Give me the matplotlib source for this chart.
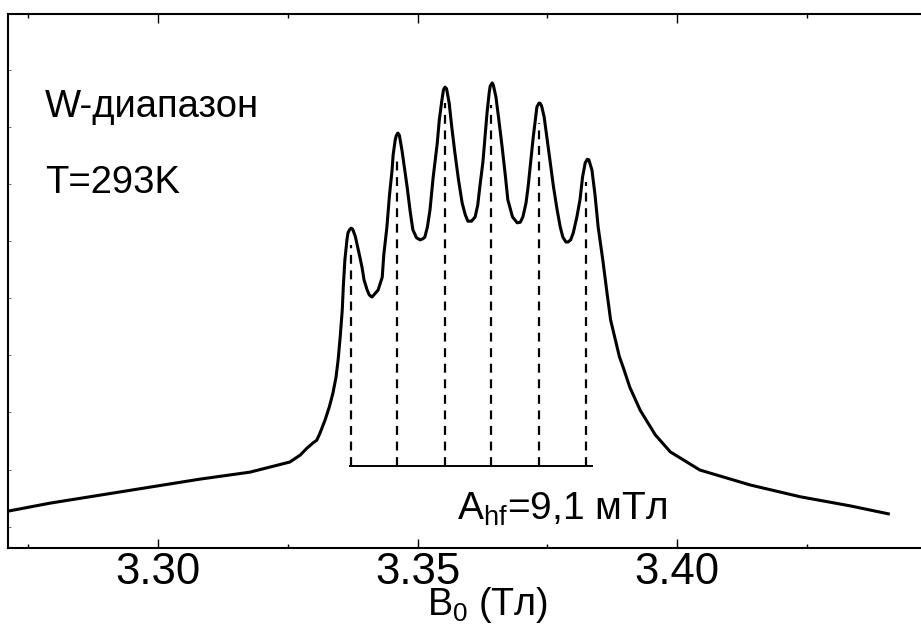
import numpy as np
import matplotlib
matplotlib.use('Agg')
import matplotlib.pyplot as plt
from matplotlib.ticker import MultipleLocator

plt.rcParams['font.family'] = ['Liberation Sans', 'DejaVu Sans']
plt.rcParams['mathtext.fontset'] = 'custom'
plt.rcParams['mathtext.rm'] = 'Liberation Sans'
plt.rcParams['mathtext.it'] = 'Liberation Sans:italic'

# EPR spectrum (W-band, 293 K): field in T, intensity in arb. units
field = [3.2711, 3.2792, 3.2888, 3.2985, 3.3081, 3.3177, 3.3254, 3.3274,
         3.3287, 3.3299, 3.3306, 3.3312, 3.3322, 3.3330, 3.3337, 3.3343,
         3.3347, 3.3351, 3.3355, 3.3357, 3.3360, 3.3364, 3.3366, 3.3369,
         3.3372, 3.3375, 3.3380, 3.3383, 3.3388, 3.3393, 3.3397, 3.3403,
         3.3407, 3.3412, 3.3416, 3.3424, 3.3432, 3.3435, 3.3441, 3.3446,
         3.3451, 3.3453, 3.3457, 3.3459, 3.3462, 3.3465, 3.3470, 3.3474,
         3.3480, 3.3486, 3.3491, 3.3498, 3.3505, 3.3510, 3.3514, 3.3519,
         3.3524, 3.3530, 3.3538, 3.3542, 3.3547, 3.3550, 3.3553, 3.3556,
         3.3561, 3.3566, 3.3572, 3.3579, 3.3586, 3.3592, 3.3597, 3.3604,
         3.3611, 3.3616, 3.3620, 3.3626, 3.3630, 3.3634, 3.3638, 3.3640,
         3.3644, 3.3646, 3.3651, 3.3656, 3.3663, 3.3669, 3.3674, 3.3683,
         3.3692, 3.3698, 3.3703, 3.3709, 3.3713, 3.3718, 3.3723, 3.3727,
         3.3730, 3.3734, 3.3736, 3.3739, 3.3744, 3.3749, 3.3755, 3.3762,
         3.3769, 3.3775, 3.3780, 3.3786, 3.3790, 3.3795, 3.3800, 3.3807,
         3.3813, 3.3818, 3.3823, 3.3827, 3.3830, 3.3836, 3.3842, 3.3848,
         3.3857, 3.3865, 3.3872, 3.3881, 3.3889, 3.3896, 3.3909, 3.3929,
         3.3958, 3.3987, 3.4044, 3.4141, 3.4237, 3.4333, 3.4407]
signal = [6.9, 8.4, 9.9, 11.4, 12.9, 14.2, 16.1, 17.4,
          18.7, 19.7, 20.2, 21.5, 24.0, 26.4, 29.0, 32.0,
          35.2, 39.5, 44.6, 48.9, 53.9, 57.7, 59.0, 59.6,
          59.9, 59.7, 58.4, 57.1, 54.9, 52.6, 50.2, 48.3,
          47.4, 47.0, 47.4, 48.3, 50.7, 54.9, 60.1, 66.1,
          70.8, 73.6, 76.4, 77.2, 77.7, 77.3, 74.5, 71.7,
          67.6, 62.9, 59.6, 58.1, 57.7, 57.9, 58.2, 60.1,
          63.3, 69.3, 75.8, 80.2, 83.9, 85.8, 86.3, 86.0,
          83.3, 78.8, 74.0, 68.9, 64.6, 62.4, 61.2, 61.2,
          62.0, 64.2, 67.6, 72.3, 77.0, 81.6, 85.2, 86.5,
          87.1, 86.7, 84.5, 80.7, 75.1, 69.9, 65.2, 62.0,
          60.9, 61.0, 62.0, 64.6, 67.6, 72.3, 77.0, 80.2,
          82.6, 83.3, 83.3, 82.8, 80.7, 77.0, 72.7, 67.6,
          63.3, 60.1, 58.2, 57.3, 57.3, 57.7, 59.0, 62.0,
          65.2, 69.5, 72.1, 72.8, 72.7, 70.8, 66.1, 60.1,
          53.9, 47.8, 42.7, 39.0, 35.8, 33.9, 30.1, 25.8,
          21.2, 18.0, 14.6, 11.8, 9.6, 7.9, 6.4]

# hyperfine line positions and heights of the marker lines
hf_lines = [3.3372, 3.3461, 3.3553, 3.3642, 3.3734, 3.3825]
hf_tops = [56.7, 73.6, 83.3, 83.0, 79.6, 68.5]
hf_base = 15.4
hf_span = [3.3368, 3.3838]

fig = plt.figure(figsize=(9.21, 6.25), dpi=100)
ax = fig.add_axes([8 / 921, 0.1232, 913 / 921, 0.8544])

ax.plot(field, signal, color='black', lw=2.2, solid_joinstyle='round')
ax.vlines(hf_lines, hf_base, hf_tops, colors='black', lw=1.6,
          linestyles=(0, (4, 3)))
ax.hlines(hf_base, hf_span[0], hf_span[1], colors='black', lw=1.4)

ax.set_xlim(3.2711, 3.4470)
ax.set_ylim(0, 100)

ax.xaxis.set_major_locator(MultipleLocator(0.05))
ax.xaxis.set_minor_locator(MultipleLocator(0.025))
ax.xaxis.set_major_formatter(plt.FormatStrFormatter('%.2f'))
ax.set_yticks(np.arange(4.0, 100, 10.7))
ax.tick_params(axis='x', which='major', direction='in', length=6.5, width=1.0,
               top=True, labelsize=31.5, pad=3)
ax.tick_params(axis='x', which='minor', direction='in', length=3.2, width=1.0,
               top=True)
ax.tick_params(axis='y', direction='in', length=2.5, width=0.6,
               labelleft=False, color='#555555')

for side in ['left', 'top', 'bottom']:
    ax.spines[side].set_linewidth(1.5)
ax.spines['right'].set_visible(False)

ax.set_xlabel(r'B$_\mathregular{0}$ (Тл)', fontsize=27)
ax.xaxis.set_label_coords(0.525, -0.1255)
ax.xaxis.label.set_verticalalignment('baseline')

ax.text(0.0405, 0.807, 'W-диапазон', transform=ax.transAxes, fontsize=27.5,
        va='baseline', ha='left')
ax.text(0.0405, 0.665, 'T=293K', transform=ax.transAxes, fontsize=27.5,
        va='baseline', ha='left')
ax.text(0.4918, 0.0524, r'A$_\mathregular{hf}$=9,1 мТл', transform=ax.transAxes,
        fontsize=28, va='baseline', ha='left')

fig.savefig('out.png', dpi=100, facecolor='white')
